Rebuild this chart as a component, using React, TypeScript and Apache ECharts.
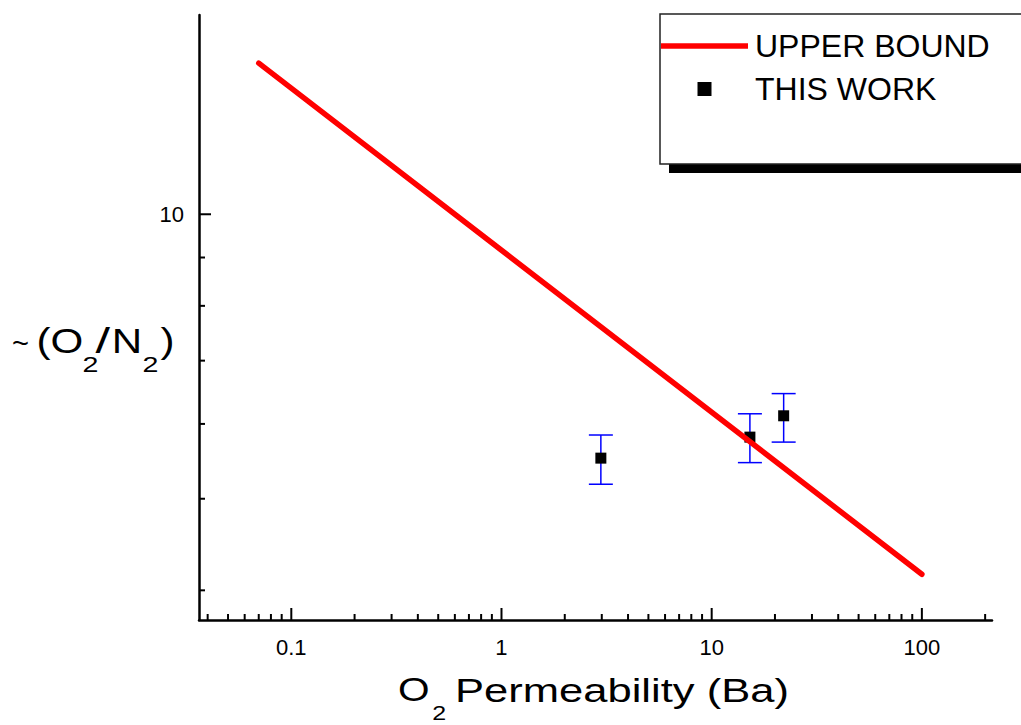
import React, { useEffect, useRef } from 'react';
import * as echarts from 'echarts';

// ---- data ----
const boundX = [0.07, 100];
const boundY = [14.45, 4.16];

const workX = [2.97, 15.2, 22.0];
const workY = [5.52, 5.81, 6.12];
const workLow = [5.18, 5.46, 5.74];
const workHigh = [5.84, 6.15, 6.46];

const xMajorTicks = [0.1, 1, 10, 100];
const xMinorTicks = [
  0.04, 0.05, 0.06, 0.07, 0.08, 0.09,
  0.2, 0.3, 0.4, 0.5, 0.6, 0.7, 0.8, 0.9,
  2, 3, 4, 5, 6, 7, 8, 9,
  20, 30, 40, 50, 60, 70, 80, 90,
  200,
];
const yMajorTicks = [10];
const yMinorTicks = [4, 5, 6, 7, 8, 9];

const X_MIN = 0.03638;
const X_MAX = 215.6;
const Y_MIN = 3.721;
const Y_MAX = 16.25;

const FONT = '"Liberation Sans", Arial, Helvetica, sans-serif';

function txt(text: string, x: number, y: number, size: number, scaleX: number) {
  return {
    type: 'text',
    x,
    y,
    scaleX,
    style: {
      text,
      fontSize: size,
      fontFamily: FONT,
      fill: '#000',
      align: 'left',
      verticalAlign: 'middle',
    },
    z: 10,
  };
}

export default function App() {
  const ref = useRef<HTMLDivElement>(null);

  useEffect(() => {
    if (!ref.current) return;
    const chart = echarts.init(ref.current, undefined, { renderer: 'svg' });

    const xTickData = [
      ...xMajorTicks.map((v) => [v, Y_MIN, 1]),
      ...xMinorTicks.map((v) => [v, Y_MIN, 0]),
    ];
    const yTickData = [
      ...yMajorTicks.map((v) => [X_MIN, v, 1]),
      ...yMinorTicks.map((v) => [X_MIN, v, 0]),
    ];
    const errData = workX.map((x, i) => [x, workLow[i], workHigh[i]]);

    const labelCfg = {
      showMinLabel: false,
      showMaxLabel: false,
      fontSize: 22,
      color: '#000',
      fontFamily: FONT,
      formatter: (v: number) => String(+Number(v).toPrecision(6)),
    };

    const option: any = {
      animation: false,
      backgroundColor: '#fff',
      textStyle: { fontFamily: FONT },
      grid: { left: 199, right: 29, top: 15, bottom: 105, containLabel: false },
      xAxis: {
        type: 'log',
        logBase: 10,
        min: X_MIN,
        max: X_MAX,
        axisLine: { show: true, onZero: false, lineStyle: { color: '#000', width: 2.5 } },
        axisTick: { show: false },
        minorTick: { show: false },
        splitLine: { show: false },
        axisLabel: { ...labelCfg, margin: 16 },
      },
      yAxis: {
        type: 'log',
        logBase: 10,
        min: Y_MIN,
        max: Y_MAX,
        axisLine: { show: true, onZero: false, lineStyle: { color: '#000', width: 2.5 } },
        axisTick: { show: false },
        minorTick: { show: false },
        splitLine: { show: false },
        axisLabel: { ...labelCfg, margin: 15 },
      },
      legend: {
        orient: 'vertical',
        left: 660,
        top: 14,
        itemWidth: 87,
        itemHeight: 14,
        itemGap: 11,
        padding: [16, 70, 59, 1],
        backgroundColor: '#fff',
        borderColor: '#222',
        borderWidth: 1.5,
        borderRadius: 0,
        selectedMode: false,
        symbolKeepAspect: true,
        textStyle: { fontSize: 32, color: '#000', fontFamily: FONT, padding: [0, 0, 0, 2] },
        data: [
          { name: 'UPPER BOUND', icon: 'path://M0,0 L87,0 L87,5.5 L0,5.5 Z' },
          { name: 'THIS WORK', icon: 'path://M0,0 L14,0 L14,14 L0,14 Z' },
        ],
        z: 20,
      },
      graphic: [
        {
          type: 'rect',
          shape: { x: 669, y: 23, width: 420, height: 150 },
          style: { fill: '#000' },
          z: 1,
        },
        // y axis title: ~ (O2/N2)
        txt('~', 12, 343, 29, 1),
        txt('(O', 36.5, 340.5, 36, 1.17),
        txt('2', 82.5, 364.4, 22, 1.3),
        txt('/', 95.5, 340.5, 36, 1.45),
        txt('N', 111.8, 340.5, 36, 1.17),
        txt('2', 142.5, 364.4, 22, 1.3),
        txt(')', 160.4, 340.5, 36, 1.17),
        // x axis title: O2 Permeability (Ba)
        txt('O', 398, 690, 33, 1.23),
        txt('2', 432.3, 713.5, 20, 1.25),
        txt('Permeability (Ba)', 455, 690, 33, 1.32),
      ],
      series: [
        {
          name: 'xticks',
          type: 'custom',
          silent: true,
          encode: { x: 0, y: 1 },
          data: xTickData,
          z: 5,
          renderItem: (params: any, api: any) => {
            const p = api.coord([api.value(0), api.value(1)]);
            const len = api.value(2) ? 12 : 6;
            return {
              type: 'line',
              shape: { x1: p[0], y1: p[1], x2: p[0], y2: p[1] - len },
              style: { stroke: '#000', lineWidth: 2 },
            };
          },
        },
        {
          name: 'yticks',
          type: 'custom',
          silent: true,
          encode: { x: 0, y: 1 },
          data: yTickData,
          z: 5,
          renderItem: (params: any, api: any) => {
            const p = api.coord([api.value(0), api.value(1)]);
            const len = api.value(2) ? 12 : 6;
            return {
              type: 'line',
              shape: { x1: p[0], y1: p[1], x2: p[0] + len, y2: p[1] },
              style: { stroke: '#000', lineWidth: 2 },
            };
          },
        },
        {
          name: 'errors',
          type: 'custom',
          silent: true,
          encode: { x: 0, y: [1, 2] },
          data: errData,
          z: 6,
          renderItem: (params: any, api: any) => {
            const x = api.value(0);
            const lo = api.coord([x, api.value(1)]);
            const hi = api.coord([x, api.value(2)]);
            const hw = 12;
            const st = { stroke: '#0000ff', lineWidth: 1.5 };
            return {
              type: 'group',
              children: [
                { type: 'line', shape: { x1: lo[0], y1: lo[1], x2: hi[0], y2: hi[1] }, style: st },
                { type: 'line', shape: { x1: lo[0] - hw, y1: lo[1], x2: lo[0] + hw, y2: lo[1] }, style: st },
                { type: 'line', shape: { x1: hi[0] - hw, y1: hi[1], x2: hi[0] + hw, y2: hi[1] }, style: st },
              ],
            };
          },
        },
        {
          name: 'THIS WORK',
          type: 'scatter',
          symbol: 'rect',
          symbolSize: 11,
          itemStyle: { color: '#000', opacity: 1 },
          data: workX.map((x, i) => [x, workY[i]]),
          z: 7,
        },
        {
          name: 'UPPER BOUND',
          type: 'line',
          symbol: 'none',
          lineStyle: { color: '#ff0000', width: 5.5, cap: 'round' },
          itemStyle: { color: '#ff0000' },
          data: boundX.map((x, i) => [x, boundY[i]]),
          z: 8,
        },
      ],
    };

    chart.setOption(option);
    return () => chart.dispose();
  }, []);

  return (
    <div
      ref={ref}
      style={{ position: 'absolute', left: 0, top: 0, width: 1021, height: 725, background: '#fff' }}
    />
  );
}
